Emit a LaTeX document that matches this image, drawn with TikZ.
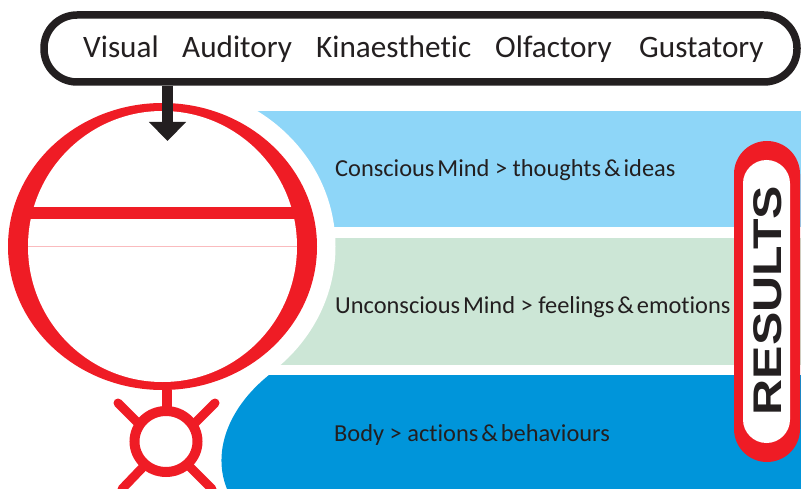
\documentclass[tikz,border=0pt]{standalone}
\usepackage{fontspec}
\setmainfont{Carlito}[Ligatures=NoCommon]
\newfontfamily\resultsfont{Liberation Sans}[FakeStretch=1.25]
\usetikzlibrary{arrows.meta,shapes.geometric}
\definecolor{redline}{HTML}{EF1C25}
\definecolor{inkline}{HTML}{231F20}
\definecolor{skyband}{HTML}{8ED6F8}
\definecolor{greenband}{HTML}{CCE6D6}
\definecolor{blueband}{HTML}{0095DA}
\newcommand{\tightsp}{\hspace{0.12em}}
\begin{document}
\begin{tikzpicture}[x=1pt,y=-1pt]
\tikzstyle{oval} = [ellipse, inner sep=0pt, text width=0pt]
\tikzstyle{label} = [inner sep=0pt, anchor=base west, font=\fontsize{24.4}{25}\selectfont, text=inkline]
\tikzstyle{sense} = [inner sep=0pt, anchor=base west, font=\fontsize{31.2}{31}\selectfont, text=inkline]
\tikzstyle{limb} = [redline, line width=9pt, line cap=round]
\useasboundingbox (0,0) rectangle (801,489);

% Bands
\fill[skyband] (200,111) rectangle (801,227);
\fill[greenband] (200,238) rectangle (801,365);
\fill[blueband] (269,375) -- (801,375) -- (801,489) -- (227,489) .. controls (212,452) and (228,408) .. (269,375) -- cycle;
\node[oval, fill=white, minimum width=346pt, minimum height=324pt] (halo) at (162.5,246.5) {};

% Senses
\node[rectangle, draw=inkline, fill=white, line width=7.5pt, rounded corners=33pt, minimum width=753pt, minimum height=67pt] (senses) at (420.5,48.5) {};
\node[sense] (visual) at (83,58) {Visual};
\node[sense] (auditory) at (182,58) {Auditory};
\node[sense] (kinaesthetic) at (316,58) {Kinaesthetic};
\node[sense] (olfactory) at (495,58) {Olfactory};
\node[sense] (gustatory) at (639,58) {Gustatory};

% Mind
\node[oval, fill=redline, minimum width=309pt, minimum height=287pt] (mind) at (162.5,246.5) {};
\node[oval, fill=white, minimum width=269pt, minimum height=271pt] (mindin) at (162.5,246.5) {};
\fill[redline] (30,207) rectangle (295,219.5);
\draw[redline!30, line width=0.7pt] (28,246) -- (297,246);

% Arrow into the mind
\coordinate (arrowtip) at (167.5,141);
\draw[inkline, line width=11pt, -{Triangle[width=36pt,length=19pt]}] (senses.south -| arrowtip) -- (arrowtip);

% Body
\node[oval, draw=redline, fill=white, line width=10pt, minimum width=63pt, minimum height=61pt] (body) at (166,441.5) {};
\draw[redline, line width=10pt] (mind.south -| 167,0) -- (167,409);
\draw[limb] (118,403) -- (140,425);
\draw[limb] (215,403) -- (193,425);
\draw[limb] (122,489) -- (145,465);
\draw[limb] (212,489) -- (188,465);

% Labels
\node[label] (conscious) at (335,177) {Conscious\tightsp{}Mind > thoughts\tightsp\&\tightsp{}ideas};
\node[label] (unconscious) at (335,313) {Unconscious\tightsp{}Mind > feelings\tightsp\&\tightsp{}emotions};
\node[label] (bodytext) at (334,441) {Body > actions\tightsp\&\tightsp{}behaviours};

% Results
\node[rectangle, fill=redline, rounded corners=33pt, minimum width=66pt, minimum height=321pt] (results) at (767,301.5) {};
\node[rectangle, fill=white, rounded corners=23.5pt, minimum width=47pt, minimum height=283pt] (resultsin) at (766.5,301.5) {};
\node[rotate=90, inner sep=0pt, text=inkline] (resultstext) at (767.5,300.5) {\resultsfont\bfseries\fontsize{40}{40}\selectfont RESULTS};
\end{tikzpicture}
\end{document}
